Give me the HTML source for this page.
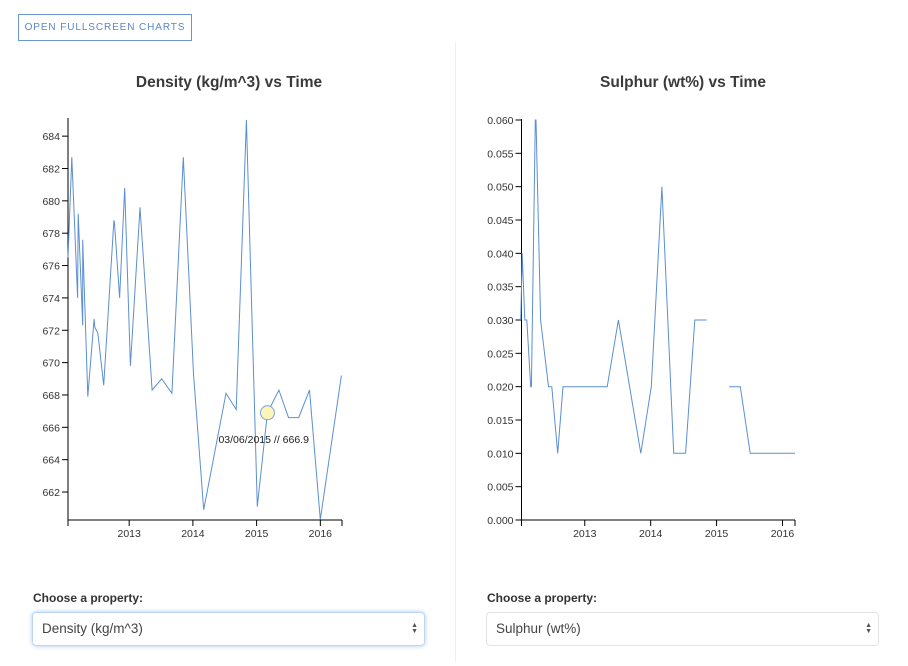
<!DOCTYPE html>
<html><head><meta charset="utf-8"><style>
body{margin:0;width:908px;height:666px;background:#fff;font-family:"Liberation Sans",sans-serif;position:relative;overflow:hidden}
.btn{position:absolute;left:18px;top:14px;width:174px;height:27px;border:1px solid #6b96cf;color:#5a88c6;font-size:10px;letter-spacing:0.9px;line-height:26px;text-align:center;box-sizing:border-box}
.div{position:absolute;left:455px;top:42px;width:1px;height:620px;background:#eee}
.lbl{position:absolute;font-size:12px;font-weight:bold;color:#333;top:591px}
.sel{position:absolute;top:612px;width:393px;height:34px;border:1px solid #e3e3e3;border-radius:4px;box-sizing:border-box;font-size:13.5px;color:#444;padding-left:9px;line-height:32px}
.sel.f{border-color:#bcd6f3;box-shadow:0 0 5px #a9cbf2}
.arr{position:absolute;right:6px;top:10px;font-size:7px;line-height:6px;color:#555}
svg{position:absolute;left:0;top:0}
</style></head><body>
<div class="btn">OPEN FULLSCREEN CHARTS</div>
<div class="div"></div>
<div class="lbl" style="left:33px">Choose a property:</div>
<div class="sel f" style="left:32px">Density (kg/m^3)<div class="arr">▲<br>▼</div></div>
<div class="lbl" style="left:487px">Choose a property:</div>
<div class="sel" style="left:486px">Sulphur (wt%)<div class="arr">▲<br>▼</div></div>
<svg id="s" width="908" height="666"></svg>
<script>
const densYears=[2012.04,2012.10,2012.19,2012.20,2012.27,2012.27,2012.35,2012.45,2012.46,2012.51,2012.60,2012.76,2012.77,2012.85,2012.93,2013.02,2013.17,2013.36,2013.51,2013.67,2013.85,2014.01,2014.17,2014.52,2014.68,2014.84,2015.01,2015.17,2015.35,2015.50,2015.66,2015.83,2016.00,2016.33];
const densVals=[676.5,682.7,674.0,679.2,672.3,677.6,667.9,672.7,672.2,671.8,668.6,678.8,678.6,674.0,680.8,669.8,679.6,668.3,669.0,668.1,682.7,669.3,660.9,668.1,667.1,685.0,661.1,666.9,668.3,666.6,666.6,668.3,660.3,669.2];
const densTicks=[662,664,666,668,670,672,674,676,678,680,682,684];
const sulYears=[2012.03,2012.05,2012.09,2012.12,2012.18,2012.19,2012.25,2012.26,2012.33,2012.45,2012.50,2012.59,2012.67,2013.34,2013.51,2013.85,2014.01,2014.17,2014.35,2014.53,2014.67,2014.85,2015.0,2015.19,2015.36,2015.51,2016.19];
const sulVals=[0.030,0.040,0.030,0.030,0.020,0.020,0.060,0.060,0.030,0.020,0.020,0.010,0.020,0.020,0.030,0.010,0.020,0.050,0.010,0.010,0.030,0.030,null,0.020,0.020,0.010,0.010];
const sulTicks=[0,0.005,0.010,0.015,0.020,0.025,0.030,0.035,0.040,0.045,0.050,0.055,0.060];
const yearTicks=[2013,2014,2015,2016];
const NS="http://www.w3.org/2000/svg",S=document.getElementById('s');
function mk(t,a,p){const e=document.createElementNS(NS,t);for(const k in a)e.setAttribute(k,a[k]);(p||S).appendChild(e);return e;}
function chart(o){
 const x=v=>o.x0+(v-o.d0)/(o.d1-o.d0)*(o.x1-o.x0);
 const y=v=>o.yb+(v-o.v0)/(o.v1-o.v0)*(o.yt-o.yb);
 const g=mk('g',{});
 
 
 const t=mk('text',{x:o.tx,y:87,'text-anchor':'middle','font-size':15.5,'font-weight':'bold',fill:'#3a3a3a'},g);t.textContent=o.title;
 
 
 const ya=mk('line',{x1:o.x0,x2:o.x0,y1:o.yt-1,y2:o.yb,stroke:'#000'},g);
 
 
 o.ticks.forEach(v=>{const yy=y(v);mk('line',{x1:o.x0-6,x2:o.x0,y1:yy,y2:yy,stroke:'#000'},g);
  const l=mk('text',{x:o.x0-8,y:yy+4,'text-anchor':'end','font-size':10.5,fill:'#333'},g);l.textContent=o.fmt(v);
  
  });
 const xa=mk('line',{x1:o.x0,x2:o.x1,y1:o.yb,y2:o.yb,stroke:'#000'},g);
 
 
 [o.x0,o.x1].forEach(xx=>mk('line',{x1:xx,x2:xx,y1:o.yb,y2:o.yb+6,stroke:'#000'},g));
 yearTicks.forEach(v=>{const xx=x(v);mk('line',{x1:xx,x2:xx,y1:o.yb,y2:o.yb+6,stroke:'#000'},g);
  const l=mk('text',{x:xx,y:o.yb+17,'text-anchor':'middle','font-size':10.5,fill:'#333'},g);l.textContent=v;
  
  });
 let d='',pen=false;
 o.xs.forEach((xv,i)=>{const v=o.vs[i];if(v===null){pen=false;return;}d+=(pen?'L':'M')+x(xv).toFixed(1)+','+y(v).toFixed(1);pen=true;});
 const p=mk('path',{d:d,fill:'none',stroke:'#5b8fd0','stroke-width':1},g);
 
 
 if(o.hi!=null){const hx=x(o.xs[o.hi]),hy=y(o.vs[o.hi]);
  const c=mk('circle',{cx:hx,cy:hy,r:7,fill:'#fdf5b8',stroke:'#7aa3d6'},g);
  
  
  const tt=mk('text',{x:hx-49,y:hy+30,'font-size':10.5,fill:'#222'},g);tt.textContent='03/06/2015 // '+o.vs[o.hi];
  
  }
}
chart({name:'density-chart',title:'Density (kg/m^3) vs Time',tx:229,x0:68,x1:342,d0:2012.04,d1:2016.34,yb:520,yt:119,v0:660.27,v1:685.06,ticks:densTicks,fmt:v=>v,xs:densYears,vs:densVals,hi:27});
chart({name:'sulphur-chart',title:'Sulphur (wt%) vs Time',tx:683,x0:521.5,x1:795,d0:2012.04,d1:2016.19,yb:520,yt:120,v0:0,v1:0.06,ticks:sulTicks,fmt:v=>v.toFixed(3),xs:sulYears,vs:sulVals,hi:null});
</script>
</body></html>
